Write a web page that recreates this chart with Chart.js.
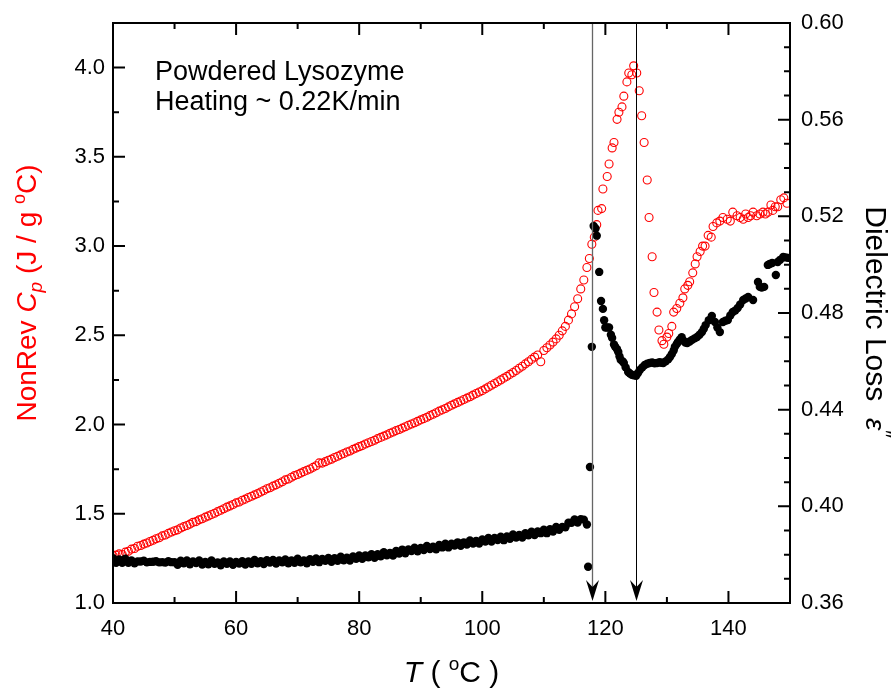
<!DOCTYPE html>
<html><head><meta charset="utf-8">
<script src="https://cdn.jsdelivr.net/npm/chart.js@4/dist/chart.umd.min.js"></script>
<style>html,body{margin:0;padding:0;background:#fff}#wrap{width:896px;height:692px}</style>
</head><body><div id="wrap"><canvas id="c" width="896" height="692"></canvas></div>
<script>
// ---- axis ticks ----
const xTicks=[40,60,80,100,120,140];
const xMinor=[50,70,90,110,130,150];
const yLeftTicks=[1.0,1.5,2.0,2.5,3.0,3.5,4.0];
const yLeftMinor=[1.25,1.75,2.25,2.75,3.25,3.75];
const yRightTicks=[0.36,0.40,0.44,0.48,0.52,0.56,0.60];
const yRightMinor=[0.37,0.38,0.39,0.41,0.42,0.43,0.45,0.46,0.47,0.49,0.50,0.51,0.53,0.54,0.55,0.57,0.58,0.59];
const arrowT=[117.8,125.0];
const annotation=["Powdered Lysozyme","Heating ~ 0.22K/min"];

// ---- data: low-temperature region (shared temperature grid) ----
const tLow=[40,40.5,41,41.5,42,42.5,43,43.5,44,44.5,45,45.5,46,46.5,47,47.5,48,48.5,49,49.5,
50,50.5,51,51.5,52,52.5,53,53.5,54,54.5,55,55.5,56,56.5,57,57.5,58,58.5,59,59.5,
60,60.5,61,61.5,62,62.5,63,63.5,64,64.5,65,65.5,66,66.5,67,67.5,68,68.5,69,69.5,
70,70.5,71,71.5,72,72.5,73,73.5,74,74.5,75,75.5,76,76.5,77,77.5,78,78.5,79,79.5,
80,80.5,81,81.5,82,82.5,83,83.5,84,84.5,85,85.5,86,86.5,87,87.5,88,88.5,89,89.5,
90,90.5,91,91.5,92,92.5,93,93.5,94,94.5,95,95.5,96,96.5,97,97.5,98,98.5,99,99.5,
100,100.5,101,101.5,102,102.5,103,103.5,104,104.5,105,105.5,106,106.5,107,107.5,108,108.5,109,109.5,
110,110.5,111,111.5,112,112.5,113,113.5,114,114.5,115,115.5,116,116.5,117];
const cpLow=[1.265,1.268,1.275,1.272,1.285,1.29,1.302,1.305,1.318,1.322,1.33,1.336,1.345,1.352,1.36,1.366,1.376,1.381,1.39,1.398,
1.405,1.41,1.42,1.428,1.434,1.442,1.452,1.456,1.466,1.472,1.481,1.488,1.496,1.503,1.512,1.52,1.528,1.537,1.544,1.552,
1.561,1.566,1.576,1.582,1.591,1.598,1.606,1.613,1.622,1.63,1.64,1.646,1.655,1.662,1.671,1.679,1.69,1.695,1.705,1.714,
1.72,1.728,1.736,1.744,1.751,1.76,1.769,1.785,1.784,1.792,1.80,1.806,1.815,1.822,1.83,1.838,1.846,1.852,1.861,1.868,
1.876,1.882,1.891,1.898,1.905,1.912,1.921,1.928,1.935,1.942,1.951,1.958,1.966,1.972,1.98,1.988,1.996,2.003,2.01,2.018,
2.026,2.033,2.041,2.05,2.058,2.066,2.075,2.082,2.09,2.099,2.108,2.116,2.124,2.132,2.14,2.148,2.156,2.165,2.174,2.182,
2.19,2.2,2.21,2.22,2.23,2.24,2.25,2.26,2.27,2.281,2.292,2.303,2.315,2.327,2.34,2.352,2.365,2.378,2.39,2.352,
2.415,2.43,2.446,2.462,2.48,2.5,2.525,2.55,2.585,2.62,2.66,2.705,2.76,2.81,2.88];
const epsLow=[0.3785,0.3766,0.3780,0.3766,0.3783,0.3766,0.3776,0.3764,0.3772,0.3772,0.3775,0.3768,0.3770,0.3771,0.3773,0.3768,0.3769,0.3767,0.3773,0.3769,
0.3769,0.3758,0.3775,0.3764,0.3776,0.3760,0.3772,0.3765,0.3776,0.3759,0.3770,0.3760,0.3776,0.3762,0.3768,0.3756,0.3772,0.3762,0.3772,0.3758,
0.3770,0.3763,0.3773,0.3759,0.3772,0.3762,0.3778,0.3764,0.3773,0.3761,0.3777,0.3767,0.3778,0.3763,0.3776,0.3768,0.3780,0.3764,0.3776,0.3766,
0.3783,0.3768,0.3776,0.3764,0.3781,0.3771,0.3784,0.3769,0.3782,0.3775,0.3786,0.3771,0.3785,0.3775,0.3792,0.3777,0.3787,0.3776,0.3793,0.3783,
0.3797,0.3783,0.3797,0.3789,0.3802,0.3787,0.3802,0.3793,0.3810,0.3797,0.3807,0.3796,0.3815,0.3805,0.3821,0.3806,0.3822,0.3815,0.3829,0.3814,
0.3828,0.3819,0.3836,0.3823,0.3833,0.3822,0.3840,0.3830,0.3845,0.3830,0.3845,0.3838,0.3851,0.3837,0.3851,0.3842,0.3859,0.3846,0.3857,0.3846,
0.3863,0.3854,0.3869,0.3854,0.3869,0.3861,0.3874,0.3860,0.3875,0.3866,0.3884,0.3871,0.3882,0.3871,0.3889,0.3880,0.3895,0.3881,0.3896,0.3889,
0.3903,0.3889,0.3905,0.3896,0.3915,0.3903,0.3915,0.3913,0.3932,0.3932,0.3946,0.3933,0.3947,0.3945,0.3925];

// ---- data: transition / high-temperature region ----
const tCpHigh=[117.4,117.8,118.2,118.6,118.8,119.4,119.6,120.3,120.6,121.1,121.4,121.9,122.2,122.7,123.0,123.5,123.8,124.3,124.6,125.1,
125.5,125.9,126.3,126.8,127.1,127.6,127.9,128.4,128.7,129.2,129.5,130.0,130.3,130.8,131.1,131.6,132.1,132.6,132.9,133.4,
133.7,134.2,134.6,134.9,135.4,135.8,136.2,136.7,137.2,137.5,138.1,138.6,139.1,139.8,140.3,140.7,141.4,141.9,142.4,142.8,
143.2,143.6,144.0,144.6,145.1,145.6,146.0,146.4,146.9,147.2,147.6,148.0,148.5,149.0,149.5];
const cpHigh=[2.93,3.01,3.05,3.12,3.20,3.21,3.32,3.39,3.46,3.55,3.58,3.71,3.75,3.78,3.84,3.92,3.97,3.96,4.01,3.97,
3.87,3.73,3.58,3.37,3.16,2.94,2.74,2.63,2.53,2.47,2.45,2.49,2.51,2.55,2.63,2.65,2.68,2.71,2.76,2.78,
2.80,2.85,2.90,2.94,2.97,3.00,3.00,3.06,3.05,3.11,3.13,3.14,3.16,3.15,3.14,3.19,3.17,3.16,3.15,3.18,
3.16,3.17,3.19,3.17,3.18,3.19,3.18,3.19,3.23,3.20,3.22,3.22,3.26,3.27,3.24];
const tEpsHigh=[117.2,117.5,117.8,118.1,118.4,118.6,119.0,119.3,119.6,119.8,120.0,120.3,120.6,120.9,121.1,121.4,121.6,121.9,122.1,122.3,
122.5,122.8,123.0,123.3,123.7,124.0,124.3,124.6,125.0,125.3,125.6,126.0,126.4,126.8,127.2,127.6,128.0,128.4,128.8,129.1,
129.4,129.8,130.2,130.5,130.8,131.1,131.3,131.6,131.8,132.1,132.4,132.7,133.0,133.3,133.7,134.1,134.5,134.9,135.3,135.7,
136.0,136.3,136.8,137.3,137.8,138.2,138.6,139.1,139.5,139.9,140.3,140.7,141.1,141.5,141.9,142.4,142.8,143.2,144.0,144.8,
145.1,145.4,145.8,146.4,146.7,147.1,147.7,148.0,148.4,148.9,149.3,149.7];
const epsHigh=[0.375,0.4163,0.466,0.516,0.515,0.512,0.497,0.485,0.4817,0.477,0.474,0.474,0.474,0.471,0.4697,0.467,0.466,0.465,0.4639,0.462,
0.4606,0.460,0.4593,0.4575,0.4556,0.455,0.4544,0.4542,0.454,0.4552,0.4564,0.4575,0.4585,0.459,0.4593,0.4595,0.4592,0.4593,0.4596,0.4594,
0.4593,0.460,0.4608,0.4618,0.463,0.4645,0.466,0.4672,0.468,0.469,0.470,0.4685,0.4678,0.4676,0.4682,0.4689,0.4695,0.4701,0.471,0.4721,
0.4735,0.475,0.477,0.4788,0.4763,0.474,0.4721,0.4763,0.4768,0.4771,0.479,0.4804,0.481,0.4821,0.4835,0.4854,0.486,0.4866,0.4854,0.4928,
0.4908,0.4905,0.4908,0.4999,0.5003,0.5007,0.4957,0.5011,0.502,0.5032,0.503,0.5028];

function pts(ts, vs){ return ts.map((t,i)=>({x:t,y:vs[i]})); }
const cpData=pts(tLow,cpLow).concat(pts(tCpHigh,cpHigh));
const epsData=pts(tLow,epsLow).concat(pts(tEpsHigh,epsHigh));

const FF='"Liberation Sans", Arial, sans-serif';
function richDraw(ctx, segs, x, y, rot, color){
  ctx.save(); ctx.translate(x,y); ctx.rotate(rot); ctx.fillStyle=color;
  ctx.textBaseline='alphabetic'; ctx.textAlign='left';
  let w=0; for(const s of segs){ctx.font=s.f; w+=ctx.measureText(s.t).width;}
  let cx=-w/2;
  for(const s of segs){ctx.font=s.f; ctx.fillText(s.t,cx,s.dy||0); cx+=ctx.measureText(s.t).width;}
  ctx.restore();
}

const decor={
  id:'decor',
  afterDatasetsDraw(chart){
    const ctx=chart.ctx, a=chart.chartArea, xs=chart.scales.x, yl=chart.scales.y, yr=chart.scales.y1;
    ctx.save();
    // arrows
    arrowT.forEach((t,i)=>{
      const px=Math.round(xs.getPixelForValue(t))+0.5;
      ctx.strokeStyle=i===0?'#666':'#000'; ctx.lineWidth=i===0?1.3:1;
      ctx.beginPath(); ctx.moveTo(px,a.top); ctx.lineTo(px,a.bottom-10); ctx.stroke();
      ctx.fillStyle='#000';
      const tip=a.bottom-2;
      ctx.beginPath(); ctx.moveTo(px,tip); ctx.lineTo(px-6.5,tip-21); ctx.lineTo(px,tip-14); ctx.lineTo(px+6.5,tip-21); ctx.closePath(); ctx.fill();
    });
    // frame
    ctx.strokeStyle='#000'; ctx.lineWidth=2;
    ctx.strokeRect(a.left,a.top,a.right-a.left,a.bottom-a.top);
    // ticks
    ctx.beginPath();
    const M=12, m=6;
    xTicks.forEach(v=>{const p=xs.getPixelForValue(v); ctx.moveTo(p,a.bottom); ctx.lineTo(p,a.bottom-M); ctx.moveTo(p,a.top); ctx.lineTo(p,a.top+M);});
    xMinor.forEach(v=>{const p=xs.getPixelForValue(v); ctx.moveTo(p,a.bottom); ctx.lineTo(p,a.bottom-m); ctx.moveTo(p,a.top); ctx.lineTo(p,a.top+m);});
    yLeftTicks.forEach(v=>{const p=yl.getPixelForValue(v); ctx.moveTo(a.left,p); ctx.lineTo(a.left+M,p);});
    yLeftMinor.forEach(v=>{const p=yl.getPixelForValue(v); ctx.moveTo(a.left,p); ctx.lineTo(a.left+m,p);});
    yRightTicks.forEach(v=>{const p=yr.getPixelForValue(v); ctx.moveTo(a.right,p); ctx.lineTo(a.right-M,p);});
    yRightMinor.forEach(v=>{const p=yr.getPixelForValue(v); ctx.moveTo(a.right,p); ctx.lineTo(a.right-m,p);});
    ctx.stroke();
    // tick labels
    ctx.fillStyle='#000'; ctx.font='22px '+FF;
    ctx.textAlign='center'; ctx.textBaseline='alphabetic';
    xTicks.forEach(v=>ctx.fillText(String(v), xs.getPixelForValue(v), a.bottom+32));
    ctx.textAlign='right'; ctx.textBaseline='middle';
    yLeftTicks.forEach(v=>ctx.fillText(v.toFixed(1), a.left-8, yl.getPixelForValue(v)));
    ctx.textAlign='left';
    yRightTicks.forEach(v=>ctx.fillText(v.toFixed(2), a.right+11, yr.getPixelForValue(v)));
    // annotation
    ctx.font='27px '+FF; ctx.textBaseline='alphabetic'; ctx.textAlign='left';
    ctx.fillText(annotation[0], 155, 80);
    ctx.fillText(annotation[1], 155, 110);
    ctx.restore();
    // axis titles
    const N='28px '+FF, I='italic 28px '+FF, S='18px '+FF, SI='italic 19px '+FF;
    richDraw(ctx,[{t:'NonRev ',f:N},{t:'C',f:I},{t:'p',f:SI,dy:6},{t:' (J / g ',f:N},{t:'o',f:S,dy:-11},{t:'C)',f:N}],
      36,(a.top+a.bottom)/2-20,-Math.PI/2,'#ff0000');
    const N2='30px '+FF;
    richDraw(ctx,[{t:'Dielectric Loss  ',f:N2},{t:'\u03B5',f:'italic 28px '+FF},{t:'\u2032\u2032',f:'20px '+FF,dy:-11}],
      866,322,Math.PI/2,'#000');
    const N3='30px '+FF, I3='italic 30px '+FF;
    richDraw(ctx,[{t:'T',f:I3},{t:' ( ',f:N3},{t:'o',f:'19px '+FF,dy:-12},{t:'C )',f:N3}],
      (a.left+a.right)/2,682,0,'#000');
  }
};

new Chart(document.getElementById('c'),{
  type:'scatter',
  data:{datasets:[
    {label:'eps',data:epsData,yAxisID:'y1',order:0,pointRadius:4.2,pointBackgroundColor:'#000',pointBorderWidth:0,pointBorderColor:'#000'},
    {label:'cp',data:cpData,yAxisID:'y',order:1,pointRadius:4,pointBorderWidth:1.1,pointBorderColor:'#ff0000',pointBackgroundColor:'rgba(255,255,255,0)'}
  ]},
  options:{
    responsive:false, animation:false, devicePixelRatio:1,
    layout:{padding:{top:23,left:0,right:0,bottom:0}},
    plugins:{legend:{display:false},tooltip:{enabled:false}},
    scales:{
      x:{type:'linear',min:40,max:150,ticks:{display:false},grid:{display:false},border:{display:false},afterFit:s=>{s.height=89;}},
      y:{type:'linear',position:'left',min:1.0,max:4.25,ticks:{display:false},grid:{display:false},border:{display:false},afterFit:s=>{s.width=113;}},
      y1:{type:'linear',position:'right',min:0.36,max:0.60,ticks:{display:false},grid:{display:false},border:{display:false},afterFit:s=>{s.width=106;}}
    }
  },
  plugins:[decor]
});
</script></body></html>
